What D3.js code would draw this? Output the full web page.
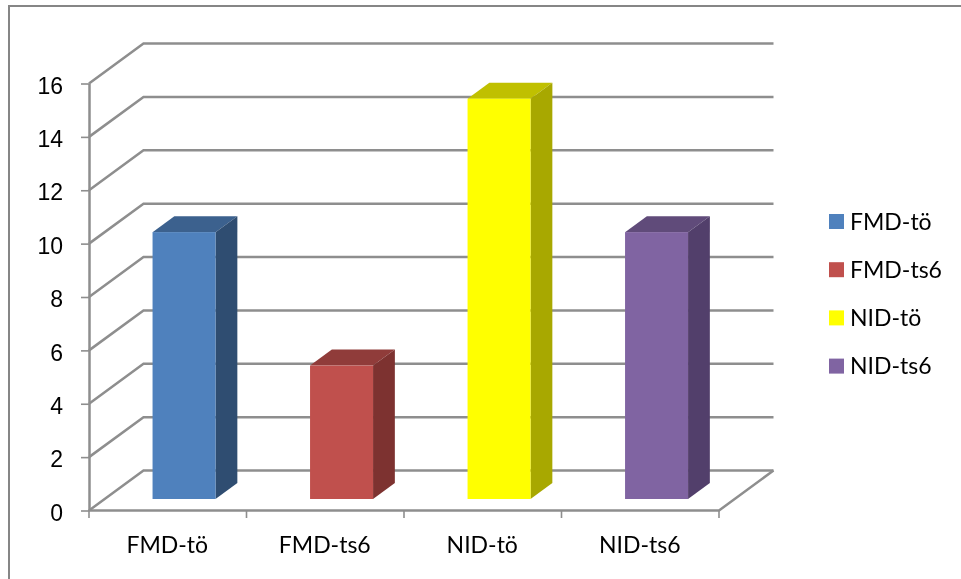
<!DOCTYPE html>
<html>
<head>
<meta charset="utf-8">
<script src="https://cdn.jsdelivr.net/npm/d3@7"></script>
<style>
  html, body { margin: 0; padding: 0; background: #fff; }
  svg { display: block; font-family: Lato, "Open Sans", sans-serif; filter: blur(0.35px); }
</style>
</head>
<body>
<div id="chart"></div>
<script>
// Values
const categories = ["FMD-tö", "FMD-ts6", "NID-tö", "NID-ts6"];
const values = [10, 5, 15, 10];
const yTicks = [0, 2, 4, 6, 8, 10, 12, 14, 16];
const colors = ["#4f81bd", "#c0504d", "#ffff00", "#8064a2"];
const topColors = ["#3c618e", "#903c3a", "#c0c000", "#604b7a"];
const sideColors = ["#2f4d71", "#7d3230", "#a8a800", "#523f6b"];

const width = 961;
const height = 579;
const gridColor = "#8e8e8e";

const svg = d3.select("#chart")
    .append("svg")
    .attr("width", width)
    .attr("height", height);

// Scales for the front face of the plot
const xScale = d3.scaleBand()
    .domain(categories)
    .range([89, 719])
    .paddingInner(0.6)
    .paddingOuter(0.3);

const xCell = d3.scalePoint()
    .domain(d3.range(categories.length + 1))
    .range([89, 719]);

const yScale = d3.scaleLinear()
    .domain([0, 16])
    .range([510.5, 83.5]);

// Oblique projection: z = 0 is the front wall, z = 1 the back wall
const depthX = 54.5;
const depthY = -40;
const px = (x, z) => x + depthX * z;
const py = (y, z) => y + depthY * z;
const line = d3.line();

// Outer frame, only the left and top edges are inside the crop
svg.append("path")
    .attr("d", line([[9, 579], [9, 6], [961, 6]]))
    .attr("fill", "none")
    .attr("stroke", "#868686")
    .attr("stroke-width", 2);

// Grid lines: along the side wall, then along the back wall
svg.append("g")
    .selectAll("path")
    .data(yTicks)
    .enter()
    .append("path")
    .attr("d", d => line([
        [px(89, 0), yScale(d)],
        [px(89, 1), py(yScale(d), 1)],
        [px(719, 1), py(yScale(d), 1)]
    ]))
    .attr("fill", "none")
    .attr("stroke", gridColor)
    .attr("stroke-width", 2.5);

// Floor edges
svg.append("path")
    .attr("d", line([
        [px(89, 0), yScale(0)],
        [px(719, 0), yScale(0)],
        [px(719, 1), py(yScale(0), 1)]
    ]))
    .attr("fill", "none")
    .attr("stroke", gridColor)
    .attr("stroke-width", 2.5);

// Y axis
const yAxis = d3.axisLeft(yScale)
    .tickValues(yTicks)
    .tickSize(8)
    .tickPadding(18)
    .tickSizeOuter(0);
const yG = svg.append("g")
    .attr("transform", "translate(89,0)")
    .call(yAxis);
yG.select(".domain").attr("stroke", gridColor).attr("stroke-width", 2.5);
yG.selectAll("line").attr("stroke", gridColor).attr("stroke-width", 1.6);
yG.selectAll("text")
    .attr("dy", "0.42em")
    .style("fill", "#000")
    .style("font-size", "23px");

// X axis ticks sit on the cell edges, labels in the cell centres
svg.append("g")
    .selectAll("line")
    .data(xCell.domain())
    .enter()
    .append("line")
    .attr("x1", d => xCell(d))
    .attr("x2", d => xCell(d))
    .attr("y1", 510)
    .attr("y2", 518)
    .attr("stroke", gridColor)
    .attr("stroke-width", 1.6);

svg.append("g")
    .selectAll("text")
    .data(categories)
    .enter()
    .append("text")
    .attr("x", d => xScale(d) + xScale.bandwidth() / 2 - 0.5)
    .attr("y", 553)
    .attr("text-anchor", "middle")
    .style("font-size", "23px")
    .style("fill", "#000")
    .text(d => d);

// Bars
const barDepth = 0.4;
const barShift = 16.3;
const baseY = 499;

const bars = svg.append("g")
    .selectAll("g")
    .data(categories)
    .enter()
    .append("g");

const corners = (d, i) => {
    const x0 = xScale(d) + barShift;
    const x1 = x0 + xScale.bandwidth();
    const yTop = baseY - (yScale(0) - yScale(values[i]));
    return { x0, x1, yTop };
};

bars.append("path")
    .attr("d", (d, i) => {
        const c = corners(d, i);
        return line([
            [c.x0, c.yTop],
            [c.x1, c.yTop],
            [c.x1 + depthX * barDepth, c.yTop + depthY * barDepth],
            [c.x0 + depthX * barDepth, c.yTop + depthY * barDepth]
        ]) + "Z";
    })
    .attr("fill", (d, i) => topColors[i]);

bars.append("path")
    .attr("d", (d, i) => {
        const c = corners(d, i);
        return line([
            [c.x1, c.yTop],
            [c.x1 + depthX * barDepth, c.yTop + depthY * barDepth],
            [c.x1 + depthX * barDepth, baseY + depthY * barDepth],
            [c.x1, baseY]
        ]) + "Z";
    })
    .attr("fill", (d, i) => sideColors[i]);

bars.append("rect")
    .attr("x", (d, i) => corners(d, i).x0)
    .attr("y", (d, i) => corners(d, i).yTop)
    .attr("width", xScale.bandwidth())
    .attr("height", (d, i) => baseY - corners(d, i).yTop)
    .attr("fill", (d, i) => colors[i]);

// Legend
const legend = svg.selectAll(".legend")
    .data(categories)
    .enter()
    .append("g")
    .attr("class", "legend")
    .attr("transform", (d, i) => `translate(829,${214 + i * 48.2})`);

legend.append("rect")
    .attr("width", 15)
    .attr("height", 15)
    .attr("fill", (d, i) => colors[i]);

legend.append("text")
    .attr("x", 21)
    .attr("y", 15.5)
    .style("font-size", "23px")
    .style("fill", "#000")
    .text(d => d);
</script>
</body>
</html>
